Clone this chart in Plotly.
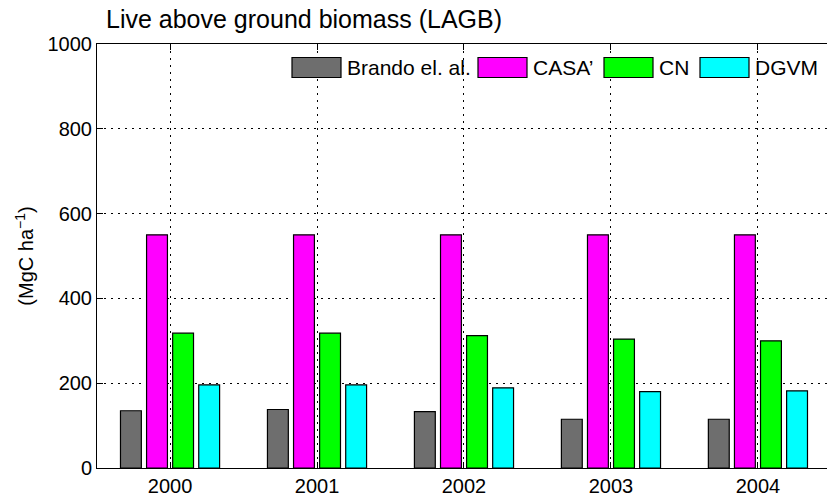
import plotly.graph_objects as go

# Live above ground biomass per year and model (MgC ha^-1)
years = [2000, 2001, 2002, 2003, 2004]
series_names = ["Brando el. al.", "CASA\u2019", "CN", "DGVM"]
series_colors = ["#6e6e6e", "#ff00ff", "#00ff00", "#00ffff"]
brando = [135, 138, 133, 115, 115]
casa = [550, 550, 550, 550, 550]
cn = [318, 318, 312, 304, 300]
dgvm = [196, 196, 189, 180, 182]
y_ticks = [0, 200, 400, 600, 800, 1000]

W, H = 827, 497
ML, MR, MT, MB = 97, 0, 44, 29
FONT = "Liberation Sans, Arial, Helvetica, sans-serif"
GRID_DASH = "2px,5px"

fig = go.Figure()
for name, color, vals in zip(series_names, series_colors, [brando, casa, cn, dgvm]):
    fig.add_trace(go.Bar(
        x=years, y=vals, name=name, showlegend=False,
        marker=dict(color=color, line=dict(color="black", width=1.2)),
    ))

# invisible trace so the top frame axis (ticks, no labels) is drawn
fig.add_trace(go.Scatter(
    x=years, y=[0] * len(years), xaxis="x2", mode="markers",
    marker=dict(opacity=0), hoverinfo="skip", showlegend=False,
))

xrange = [1999.503, 2004.47]
fig.update_layout(
    width=W, height=H,
    margin=dict(l=ML, r=MR, t=MT, b=MB),
    paper_bgcolor="white", plot_bgcolor="white",
    barmode="group", bargap=0.29, bargroupgap=0.2,
    font=dict(family=FONT, color="black", size=20),
    title=dict(
        text="Live above ground biomass (LAGB)",
        x=106 / W, xanchor="left", xref="container",
        y=1 - 19 / H, yanchor="middle", yref="container",
        font=dict(size=25, family=FONT, color="black"),
    ),
    xaxis=dict(
        range=xrange, tickvals=years, ticktext=[str(v) for v in years],
        showline=True, linecolor="black", linewidth=1,
        ticks="inside", ticklen=6, tickcolor="black",
        showgrid=True, gridcolor="black", griddash=GRID_DASH, gridwidth=1,
        zeroline=False, tickfont=dict(size=20),
    ),
    xaxis2=dict(
        range=xrange, overlaying="x", side="top", tickvals=years,
        showticklabels=False, showline=True, linecolor="black", linewidth=1,
        ticks="inside", ticklen=6, tickcolor="black", showgrid=False,
        zeroline=False,
    ),
    yaxis=dict(
        range=[0, 1000], tickvals=y_ticks,
        showline=True, linecolor="black", linewidth=1,
        ticks="inside", ticklen=6, tickcolor="black",
        showgrid=True, gridcolor="black", griddash=GRID_DASH, gridwidth=1,
        zeroline=False, tickfont=dict(size=20),
        title=dict(text="(MgC ha<sup>\u22121</sup>)", standoff=8,
                   font=dict(size=20)),
    ),
)

# legend: swatches and names along the top of the plot area
pw, ph = W - ML - MR, H - MT - MB
def px_x(p):
    return (p - ML) / pw
def px_y(p):
    return (H - MB - p) / ph

swatch_left = [292, 478, 604, 700]
swatch_w, sw_top, sw_bot = 49, 57.5, 77.5
for name, color, left in zip(series_names, series_colors, swatch_left):
    fig.add_shape(
        type="rect", xref="paper", yref="paper",
        x0=px_x(left), x1=px_x(left + swatch_w),
        y0=px_y(sw_bot), y1=px_y(sw_top),
        fillcolor=color, line=dict(color="black", width=1.2),
    )
    fig.add_annotation(
        xref="paper", yref="paper", x=px_x(left + swatch_w + 4),
        y=px_y((sw_top + sw_bot) / 2), text=name, showarrow=False,
        xanchor="left", yanchor="middle",
        font=dict(size=21, family=FONT, color="black"),
    )

fig.write_html("out.html")
